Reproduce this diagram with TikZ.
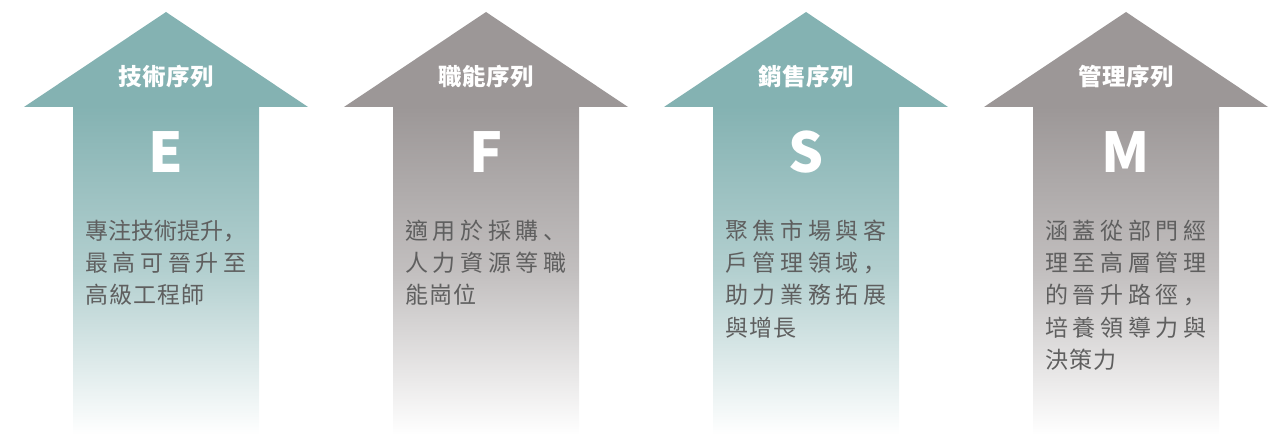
\documentclass[tikz,border=0pt]{standalone}
\usepackage{fontspec}
\newfontfamily\cjk{Noto Sans CJK TC}
\newfontfamily\cjkjp{Noto Sans CJK JP}
\definecolor{tealA}{RGB}{132,178,178}
\definecolor{grayA}{RGB}{156,151,151}
\definecolor{txtA}{RGB}{95,95,95}
\newcommand\zcomma{{\cjkjp ，}}
\newcommand\zdun{{\cjkjp 、}}
\def\spB#1{\ifx#1\relax\else\hfil#1\expandafter\spB\fi}
\def\spA#1{#1\spB}
\newcommand\jline[1]{\makebox[161pt][s]{\spA#1\relax}}
\def\nB#1{\ifx#1\relax\else\kern1pt#1\expandafter\nB\fi}
\def\nA#1{#1\nB}
\newcommand\nline[1]{\makebox[161pt][l]{\nA#1\relax}}
\def\tB#1{\ifx#1\relax\else\kern0.6pt#1\expandafter\tB\fi}
\def\tA#1{#1\tB}
\newcommand\tline[1]{\tA#1\relax}
\tikzset{
  shaftpart/.style={top color=#1, bottom color=white, middle color=#1!62!white},
  headpart/.style={fill=#1},
  titletext/.style={font=\cjk\bfseries\fontsize{23.5}{23.5}\selectfont, text=white, inner sep=0pt},
  lettertext/.style={font=\cjk\bfseries\fontsize{55}{55}\selectfont, text=white, inner sep=0pt},
  bodytext/.style={font=\cjk\fontsize{23}{23}\selectfont, text=txtA, inner sep=0pt, anchor=base west},
}
\newcommand\drawuparrow[2]{%
  \shade[shaftpart=#2] (#1-93,106) rectangle (#1+93,435);
  \fill[headpart=#2] (#1,12) -- (#1+142,107) -- (#1-142,107) -- cycle;
}
\begin{document}
\begin{tikzpicture}[x=1pt,y=-1pt]
\useasboundingbox (0,0) rectangle (1284,435);
\drawuparrow{166}{tealA}
\drawuparrow{486}{grayA}
\drawuparrow{806}{tealA}
\drawuparrow{1126}{grayA}
% titles
\node[titletext] (t1) at (166,77) {\tline{技術序列}};
\node[titletext] (t2) at (486,77) {\tline{職能序列}};
\node[titletext] (t3) at (806,77) {\tline{銷售序列}};
\node[titletext] (t4) at (1126,77) {\tline{管理序列}};
% letters
\node[lettertext] (l1) at (166,152) {E};
\node[lettertext] (l2) at (486,152) {F};
\node[lettertext] (l3) at (806,152) {S};
\node[lettertext] (l4) at (1126,152) {M};
% body 1
\node[bodytext] (a1) at (85,240) {\jline{專注技術提升\zcomma}};
\node[bodytext] (a2) at (85,272) {\jline{最高可晉升至}};
\node[bodytext] (a3) at (85,304) {\nline{高級工程師}};
% body 2
\node[bodytext] (b1) at (405,240) {\jline{適用於採購\zdun}};
\node[bodytext] (b2) at (405,272) {\jline{人力資源等職}};
\node[bodytext] (b3) at (405,304) {\nline{能崗位}};
% body 3
\node[bodytext] (c1) at (725,240) {\jline{聚焦市場與客}};
\node[bodytext] (c2) at (725,272) {\jline{戶管理領域\zcomma}};
\node[bodytext] (c3) at (725,304) {\jline{助力業務拓展}};
\node[bodytext] (c4) at (725,336) {\nline{與增長}};
% body 4
\node[bodytext] (d1) at (1045,240) {\jline{涵蓋從部門經}};
\node[bodytext] (d2) at (1045,272) {\jline{理至高層管理}};
\node[bodytext] (d3) at (1045,304) {\jline{的晉升路徑\zcomma}};
\node[bodytext] (d4) at (1045,336) {\jline{培養領導力與}};
\node[bodytext] (d5) at (1045,368) {\nline{決策力}};
\end{tikzpicture}
\end{document}
